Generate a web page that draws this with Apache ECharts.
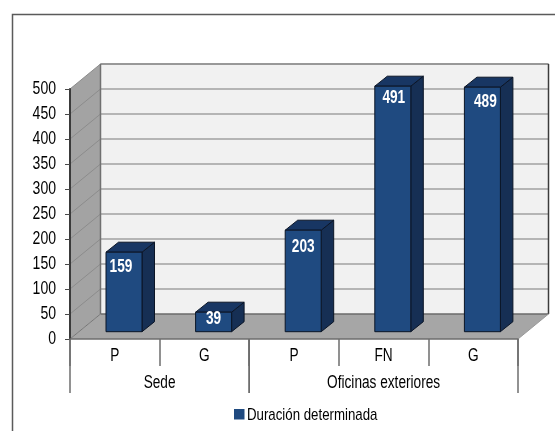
<!DOCTYPE html>
<html>
<head>
<meta charset="utf-8">
<style>html,body{margin:0;padding:0;background:#fff}#c{width:555px;height:431px}</style>
<script src="https://cdn.jsdelivr.net/npm/echarts@6/dist/echarts.min.js"></script>
</head>
<body>
<div id="c"></div>
<script>
const categories = ['P', 'G', 'P', 'FN', 'G'];
const values = [159, 39, 203, 491, 489];
const groupNames = ['Sede', 'Oficinas exteriores'];
const groupStarts = [0, 2];
const groupEnds = [1, 4];
const yTicks = [0, 50, 100, 150, 200, 250, 300, 350, 400, 450, 500];
const seriesName = 'Duración determinada';

const FONT = '"Liberation Sans",Arial,sans-serif';
const SQUEEZE = 0.78;
const WALL_DX = 30.5, WALL_DY = -25;
const BAR_DX = 12.5, BAR_DY = -10;
const BAR_SHIFT_X = 9.2, BAR_SHIFT_Y = -7.3;
const BAR_WIDTH = 36;
const labelDrop = [15, 7, 17, 12, 15];
const labelShift = [-3, 0, 0, 1, 3];

function squeezedText(x, y, text, font, align, fill) {
  return {
    type: 'text', x: x, y: y, scaleX: SQUEEZE, scaleY: 1,
    style: { x: 0, y: 0, text: text, fill: fill, font: font, align: align, verticalAlign: 'middle' }
  };
}

function renderWalls(params, api) {
  const n = categories.length;
  const o = api.coord([0, 0]);
  const halfBand = api.size([1, 0])[0] / 2;
  const x0 = o[0] - halfBand;
  const x1 = api.coord([n - 1, 0])[0] + halfBand;
  const y0 = o[1];
  const yTop = api.coord([0, yTicks[yTicks.length - 1]])[1];
  const children = [];
  const poly = (pts, fill) => children.push({
    type: 'polygon', shape: { points: pts }, style: { fill: fill }
  });
  const line = (pts, stroke, w) => children.push({
    type: 'polyline', shape: { points: pts },
    style: { fill: null, stroke: stroke, lineWidth: w }
  });
  poly([[x0 + WALL_DX, yTop + WALL_DY], [x1 + WALL_DX, yTop + WALL_DY], [x1 + WALL_DX, y0 + WALL_DY], [x0 + WALL_DX, y0 + WALL_DY]], '#f1f1f1');
  poly([[x0, y0], [x0 + WALL_DX, y0 + WALL_DY], [x0 + WALL_DX, yTop + WALL_DY], [x0, yTop]], '#a3a3a3');
  poly([[x0, y0], [x0 + WALL_DX, y0 + WALL_DY], [x1 + WALL_DX, y0 + WALL_DY], [x1, y0]], '#a6a6a6');
  yTicks.forEach(t => {
    if (t === 0) return;
    const y = api.coord([0, t])[1];
    line([[x0, y], [x0 + WALL_DX, y + WALL_DY]], '#8c8c8c', 1);
    line([[x0 + WALL_DX, y + WALL_DY], [x1 + WALL_DX, y + WALL_DY]], '#a0a0a0', 1.5);
  });
  line([[x0 + WALL_DX, yTop + WALL_DY], [x1 + WALL_DX, yTop + WALL_DY]], '#8f8f8f', 1.5);
  line([[x0 + WALL_DX, yTop + WALL_DY], [x0 + WALL_DX, y0 + WALL_DY]], '#707070', 1.5);
  line([[x0 + WALL_DX, y0 + WALL_DY], [x1 + WALL_DX, y0 + WALL_DY]], '#6a6a6a', 1.5);
  line([[x1 + WALL_DX, yTop + WALL_DY], [x1 + WALL_DX, y0 + WALL_DY]], '#3c3c3c', 1.5);
  line([[x0, y0], [x0 + WALL_DX, y0 + WALL_DY]], '#777777', 1);
  line([[x1, y0], [x1 + WALL_DX, y0 + WALL_DY]], '#9a9a9a', 1);
  return { type: 'group', children: children };
}

function renderBar(params, api) {
  const i = api.value(0);
  const top = api.coord([i, api.value(1)]);
  const base = api.coord([i, 0]);
  const xL = top[0] + BAR_SHIFT_X - BAR_WIDTH / 2;
  const xR = xL + BAR_WIDTH;
  const yT = top[1] + BAR_SHIFT_Y;
  const yB = base[1] + BAR_SHIFT_Y;
  const edge = '#0b1526';
  return {
    type: 'group',
    children: [
      { type: 'polygon', shape: { points: [[xR, yT], [xR + BAR_DX, yT + BAR_DY], [xR + BAR_DX, yB + BAR_DY], [xR, yB]] },
        style: { fill: '#162f54', stroke: edge, lineWidth: 1 } },
      { type: 'polygon', shape: { points: [[xL, yT], [xL + BAR_DX, yT + BAR_DY], [xR + BAR_DX, yT + BAR_DY], [xR, yT]] },
        style: { fill: '#183663', stroke: edge, lineWidth: 1 } },
      { type: 'rect', shape: { x: xL, y: yT, width: BAR_WIDTH, height: yB - yT },
        style: { fill: '#1f4a80', stroke: edge, lineWidth: 1 } },
      squeezedText((xL + xR) / 2 + labelShift[params.dataIndex], yT + labelDrop[params.dataIndex],
        String(api.value(1)), 'bold 17.5px ' + FONT, 'center', '#ffffff')
    ]
  };
}

function renderGroups(params, api) {
  const s = api.value(0), e = api.value(1);
  const halfBand = api.size([1, 0])[0] / 2;
  const o = api.coord([s, 0]);
  const xS = o[0] - halfBand;
  const xE = api.coord([e, 0])[0] + halfBand;
  const yB = o[1];
  const yEnd = yB + 54;
  const stroke = { stroke: '#6e6e6e', lineWidth: 1.5 };
  return {
    type: 'group',
    children: [
      { type: 'line', shape: { x1: xS, y1: yB, x2: xS, y2: yEnd }, style: stroke },
      { type: 'line', shape: { x1: xE, y1: yB, x2: xE, y2: yEnd }, style: stroke },
      squeezedText((xS + xE) / 2, yB + 44.5, groupNames[params.dataIndex], '17.5px ' + FONT, 'center', '#000000')
    ]
  };
}

function renderCategoryLabel(params, api) {
  const p = api.coord([api.value(0), 0]);
  return squeezedText(p[0], p[1] + 17, categories[params.dataIndex], '17.5px ' + FONT, 'center', '#000000');
}

function renderTickLabel(params, api) {
  const p = api.coord([0, api.value(1)]);
  const axisX = p[0] - api.size([1, 0])[0] / 2;
  return squeezedText(axisX - 14, p[1], String(api.value(1)), '18px ' + FONT, 'right', '#000000');
}

const chart = echarts.init(document.getElementById('c'), null, { renderer: 'canvas' });
chart.setOption({
  animation: false,
  backgroundColor: '#ffffff',
  color: ['#1f4a80'],
  grid: { left: 70, top: 89, width: 448, height: 250, containLabel: false },
  xAxis: {
    type: 'category', data: categories, z: 5,
    axisLine: { show: true, onZero: false, lineStyle: { color: '#6e6e6e', width: 1.5 } },
    axisTick: { show: true, interval: 0, alignWithLabel: false, length: 27, lineStyle: { color: '#6e6e6e', width: 1.5 } },
    axisLabel: { show: false },
    splitLine: { show: false }
  },
  yAxis: {
    type: 'value', min: 0, max: 500, interval: 50, z: 5,
    axisLine: { show: true, lineStyle: { color: '#3a3a3a', width: 2 } },
    axisTick: { show: true, length: 5, lineStyle: { color: '#4a4a4a', width: 1 } },
    axisLabel: { show: false },
    splitLine: { show: false }
  },
  graphic: [
    { type: 'polyline', silent: true, z: 10, shape: { points: [[12.5, 431], [12.5, 14.5], [555, 14.5]] },
      style: { fill: null, stroke: '#5a5a5a', lineWidth: 1.5 } },
    { type: 'rect', silent: true, z: 10, shape: { x: 234, y: 409, width: 10.5, height: 10.5 }, style: { fill: '#1f4a80' } },
    { type: 'text', silent: true, z: 10, x: 247, y: 415, scaleX: 0.78,
      style: { x: 0, y: 0, text: seriesName, fill: '#000000', font: '17px ' + FONT, align: 'left', verticalAlign: 'middle' } }
  ],
  series: [
    { type: 'custom', name: 'walls', silent: true, z: 1, clip: false, renderItem: renderWalls,
      data: [[0, 0]], encode: { x: 0, y: 1 } },
    { type: 'custom', name: seriesName, z: 3, clip: false, renderItem: renderBar,
      data: values.map((v, i) => [i, v]), encode: { x: 0, y: 1 } },
    { type: 'custom', name: 'groups', silent: true, z: 4, clip: false, renderItem: renderGroups,
      data: groupStarts.map((s, i) => [s, groupEnds[i]]), encode: { x: 0 } },
    { type: 'custom', name: 'categoryLabels', silent: true, z: 4, clip: false, renderItem: renderCategoryLabel,
      data: categories.map((c, i) => [i]), encode: { x: 0 } },
    { type: 'custom', name: 'tickLabels', silent: true, z: 4, clip: false, renderItem: renderTickLabel,
      data: yTicks.map(t => [0, t]), encode: { x: 0, y: 1 } }
  ]
});
</script>
</body>
</html>
